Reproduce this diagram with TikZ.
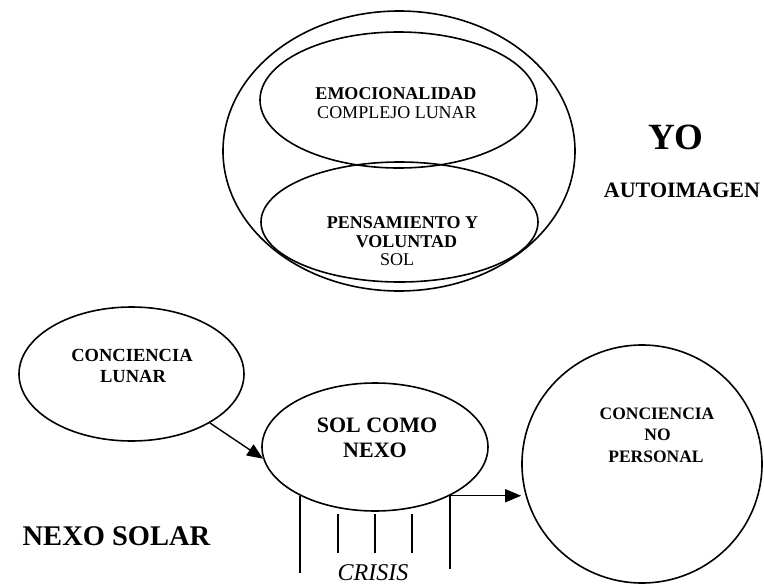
\documentclass[tikz,border=0pt]{standalone}
\usepackage{fontspec}
\setmainfont{Liberation Serif}
\usetikzlibrary{shapes.geometric,arrows.meta}
\tikzset{
  oval/.style={draw=black, line width=1.6pt, ellipse, inner sep=0pt},
  txt/.style={anchor=base, inner sep=0pt, text=black},
  bigb/.style={txt, font=\fontsize{18}{20}\selectfont\bfseries},
  conn/.style={draw=black, line width=1.4pt},
  arr/.style={conn, -{Triangle[length=16pt,width=13pt]}},
}
\begin{document}
\begin{tikzpicture}[x=1pt,y=-1pt]
\useasboundingbox[fill=white] (0,0) rectangle (764,584);
% upper group
\node[oval, minimum width=352pt, minimum height=280pt] (outer) at (399,151) {};
\node[oval, minimum width=277pt, minimum height=136pt] (emo) at (398.5,100) {};
\node[oval, minimum width=277pt, minimum height=120pt] (pens) at (399.5,222) {};
\node[bigb] (t1) at (396,99) {EMOCIONALIDAD};
\node[txt, font=\fontsize{18}{20}\selectfont] (t2) at (397,118) {COMPLEJO LUNAR};
\node[bigb] (t3) at (402.5,228) {PENSAMIENTO Y};
\node[bigb] (t4) at (406.5,247) {VOLUNTAD};
\node[txt, font=\fontsize{18}{20}\selectfont] (t5) at (397,265) {SOL};
\node[txt, font=\fontsize{37}{40}\selectfont\bfseries] (yo) at (676,149) {YO};
\node[txt, font=\fontsize{22}{24}\selectfont\bfseries] (auto) at (682,197) {AUTOIMAGEN};
% lower group
\node[oval, minimum width=225pt, minimum height=134pt] (lunar) at (131.5,374) {};
\node[txt, font=\fontsize{18.5}{20}\selectfont\bfseries] (t6) at (132,361) {CONCIENCIA};
\node[txt, font=\fontsize{18.5}{20}\selectfont\bfseries] (t7) at (133,382) {LUNAR};
\node[oval, minimum width=226pt, minimum height=128pt] (nexo) at (375,447) {};
\node[txt, font=\fontsize{22}{24}\selectfont\bfseries] (t8) at (377,432) {SOL COMO};
\node[txt, font=\fontsize{22}{24}\selectfont\bfseries] (t9) at (375,457) {NEXO};
\node[oval, minimum width=240pt, minimum height=238pt] (noper) at (642,464) {};
\node[txt, font=\fontsize{17.5}{20}\selectfont\bfseries] (t10) at (657,419) {CONCIENCIA};
\node[txt, font=\fontsize{17.5}{20}\selectfont\bfseries] (t11) at (657.5,440) {NO};
\node[txt, font=\fontsize{17.5}{20}\selectfont\bfseries] (t12) at (656,462) {PERSONAL};
\node[txt, font=\fontsize{28.5}{30}\selectfont\bfseries] (nexosolar) at (116.5,545) {NEXO SOLAR};
\node[txt, font=\fontsize{24}{26}\selectfont\itshape] (crisis) at (373,580) {CRISIS};
% connectors
\draw[arr] (lunar.-32) -- (nexo.186);
\coordinate (c1) at (nexo.-147);
\coordinate (c5) at (nexo.-33);
\draw[conn] (c1) -- ++(0,77);
\draw[conn] (c5) -- ++(0,73);
\draw[conn] ([xshift=-37pt,yshift=-2pt]nexo.south) -- ++(0,39);
\draw[conn] ([yshift=-2pt]nexo.south) -- ++(0,39);
\draw[conn] ([xshift=37pt,yshift=-2pt]nexo.south) -- ++(0,39);
\draw[arr] (c5) -- (c5 -| noper.west);
\end{tikzpicture}
\end{document}
